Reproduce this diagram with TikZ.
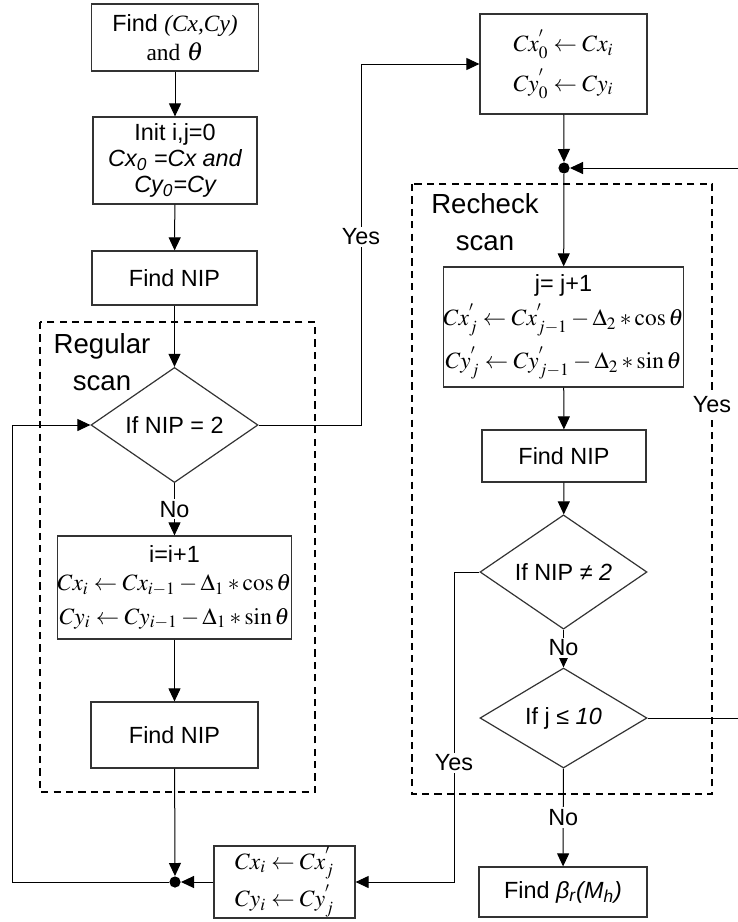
\documentclass[tikz,border=0pt]{standalone}
\usepackage{mathptmx}
\usepackage[no-math]{fontspec}
\setmainfont{Liberation Sans}
\newfontfamily\tmsfont{Liberation Serif}
\usetikzlibrary{arrows.meta,shapes.geometric}

\tikzset{
  proc/.style={draw=black!80, line width=0.6pt, align=center, inner sep=0pt,
    font=\fontsize{11.7}{13.3}\selectfont},
  decide/.style={diamond, draw=black!80, line width=0.6pt, inner sep=0pt,
    minimum width=83.5pt, minimum height=50pt, font=\fontsize{11.7}{13.3}\selectfont},
  conn/.style={-{Triangle[length=6.5pt,width=6pt]}, line width=0.5pt},
  joint/.style={circle, fill, inner sep=0pt, minimum size=5.6pt},
  lbl/.style={fill=white, inner sep=1pt, font=\fontsize{11.7}{13}\selectfont},
  scanlbl/.style={align=center, font=\fontsize{13.8}{18.5}\selectfont},
  scanbox/.style={dashed, dash pattern=on 3.6pt off 2.6pt, line width=0.7pt}
}

\begin{document}
\begin{tikzpicture}[x=0.5pt, y=-0.5pt]
  \useasboundingbox (0,0) rectangle (738,922);

  % dashed scan regions
  \draw[scanbox] (40,322) rectangle (315,792);
  \draw[scanbox] (412,184) rectangle (712,794);
  \node[scanlbl] (reglbl) at (102,362) {Regular\\scan};
  \node[scanlbl] (reclbl) at (485,222) {Recheck\\scan};

  % left column
  \node[proc, minimum width=83.5pt, minimum height=33.5pt] (find) at (175,37.5)
    {Find {\tmsfont\itshape (Cx,Cy)}\\[1pt]{\tmsfont and} {\itshape\fontsize{13}{13}\selectfont $\theta$}};
  \node[proc, minimum width=82pt, minimum height=43.5pt] (init) at (175,160.5)
    {Init i,j=0\\[-0.5pt]{\itshape Cx\textsubscript{0} =Cx and}\\[-0.5pt]{\itshape Cy\textsubscript{0}=Cy}};
  \node[proc, minimum width=82.5pt, minimum height=27pt] (nipA) at (174.5,278) {Find NIP};
  \node[decide] (ifA) at (174.5,425) {If NIP = 2};
  \node[proc, minimum width=113.5pt, minimum height=51.5pt] (stepA) at (174.5,587.5)
    {i=i+1\\[0.5pt]$Cx_{i} \leftarrow Cx_{i-1} - \Delta_{1} * \cos\theta$\\[3.5pt]$Cy_{i} \leftarrow Cy_{i-1} - \Delta_{1} * \sin\theta$};
  \node[proc, minimum width=83.5pt, minimum height=33pt] (nipB) at (174.5,735) {Find NIP};
  \node[joint] (jointA) at (175,882) {};
  \node[proc, minimum width=70.5pt, minimum height=36pt] (restore) at (284.5,882)
    {$Cx_{i} \leftarrow Cx^{'}_{j}$\\[1.5pt]$Cy_{i} \leftarrow Cy^{'}_{j}$};

  % right column
  \node[proc, minimum width=83.5pt, minimum height=50pt] (save) at (563.5,64)
    {$Cx^{'}_{0} \leftarrow Cx_{i}$\\[4pt]$Cy^{'}_{0} \leftarrow Cy_{i}$};
  \node[joint] (jointB) at (564,168) {};
  \node[proc, minimum width=118.5pt, minimum height=60pt] (stepB) at (563.5,327)
    {j= j+1\\[2.5pt]$Cx^{'}_{j} \leftarrow Cx^{'}_{j-1} - \Delta_{2} * \cos\theta$\\[4pt]$Cy^{'}_{j} \leftarrow Cy^{'}_{j-1} - \Delta_{2} * \sin\theta$};
  \node[proc, minimum width=82pt, minimum height=26pt] (nipC) at (564,456) {Find NIP};
  \node[decide] (ifB) at (563.5,572) {If NIP {\itshape ≠ 2}};
  \node[decide] (ifC) at (563.5,718) {If j {\itshape ≤ 10}};
  \node[proc, minimum width=84pt, minimum height=25pt] (beta) at (563,892)
    {Find {\itshape β\textsubscript{r}(M\textsubscript{h})}};

  % corners of the loops
  \coordinate (cornerL) at (12,882);
  \coordinate (cornerY) at (361,425);
  \coordinate (cornerB) at (454,572);
  \coordinate (cornerR) at (760,718);

  % flow
  \draw[conn] (find) -- (init);
  \draw[conn] (init) -- (nipA);
  \draw[conn] (nipA) -- (ifA);
  \draw[conn] (ifA) -- node[lbl] (noA) {No} (stepA);
  \draw[conn] (stepA) -- (nipB);
  \draw[conn] (nipB) -- (jointA);
  \draw[conn] (restore) -- (jointA);
  \draw[conn] (jointA) -- (cornerL) |- (ifA.west);
  \draw[conn] (ifA.east) -- (cornerY) |- (save.west);
  \node[lbl] (yesA) at (361,237) {Yes};

  \draw[conn] (save) -- (jointB);
  \draw[conn] (jointB) -- (stepB);
  \draw[conn] (stepB) -- (nipC);
  \draw[conn] (nipC) -- (ifB);
  \draw[conn] (ifB) -- node[lbl, pos=0.48] (noB) {No} (ifC);
  \draw[conn] (ifC) -- node[lbl] (noC) {No} (beta);
  \draw[conn] (ifB.west) -- (cornerB) |- (restore.east);
  \node[lbl] (yesB) at (454,763) {Yes};
  \draw[conn] (ifC.east) -- (cornerR) |- (jointB);
  \node[lbl] (yesC) at (712,405) {Yes};
\end{tikzpicture}
\end{document}
